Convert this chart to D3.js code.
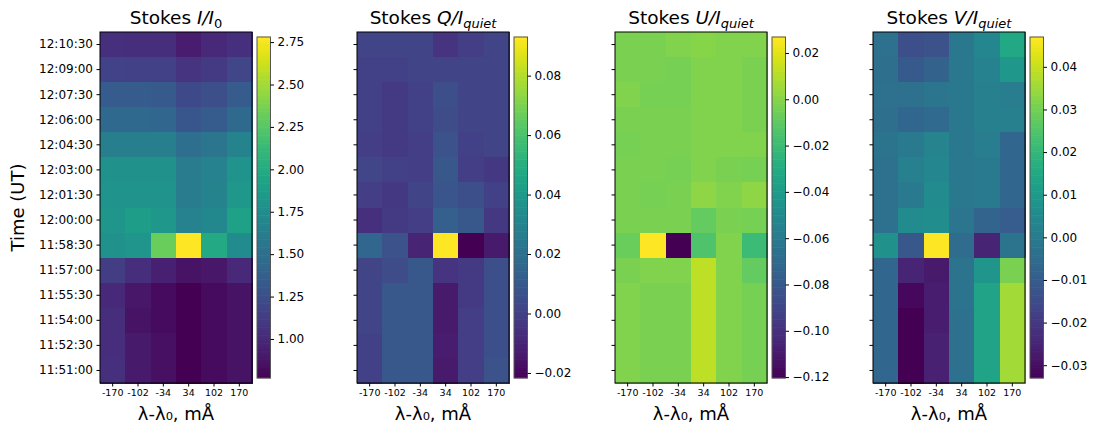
<!DOCTYPE html>
<html>
<head>
<meta charset="utf-8">
<script src="https://cdn.jsdelivr.net/npm/d3@7"></script>
<style>
  html, body { margin: 0; padding: 0; background: #fff; }
  svg { display: block; font-family: "DejaVu Sans", sans-serif; }
</style>
</head>
<body>
<svg id="chart" width="1098" height="431"></svg>
<script>
// Wavelength offsets (columns)
const wavelengths = ["-170", "-102", "-34", "34", "102", "170"];
// Time labels, top row first
const times = ["12:10:30", "12:09:00", "12:07:30", "12:06:00", "12:04:30", "12:03:00",
  "12:01:30", "12:00:00", "11:58:30", "11:57:00", "11:55:30", "11:54:00", "11:52:30", "11:51:00"];

// Stokes I/I0 (rows top -> bottom)
const stokesI = [
  [1.05, 1.03, 1.03, 0.93, 0.99, 1.05],
  [1.17, 1.15, 1.15, 1.07, 1.11, 1.19],
  [1.35, 1.35, 1.33, 1.21, 1.25, 1.35],
  [1.45, 1.45, 1.43, 1.31, 1.35, 1.45],
  [1.63, 1.63, 1.63, 1.49, 1.55, 1.67],
  [1.78, 1.78, 1.78, 1.61, 1.65, 1.80],
  [1.80, 1.80, 1.80, 1.61, 1.67, 1.84],
  [1.82, 1.88, 1.84, 1.65, 1.71, 1.92],
  [1.78, 1.82, 2.32, 2.78, 1.98, 1.73],
  [1.13, 1.03, 0.95, 0.87, 0.89, 0.99],
  [0.99, 0.89, 0.83, 0.77, 0.83, 0.87],
  [1.03, 0.87, 0.83, 0.77, 0.83, 0.87],
  [1.03, 0.91, 0.85, 0.77, 0.83, 0.87],
  [1.05, 0.91, 0.85, 0.77, 0.83, 0.87]
];
// Stokes Q/Iquiet
const stokesQ = [
  [0.0012, 0.0012, 0.0012, -0.0045, -0.0010, 0.0012],
  [0.0001, 0.0001, 0.0012, 0.0012, 0.0012, 0.0012],
  [0.0001, -0.0022, 0.0001, 0.0058, 0.0012, 0.0012],
  [0.0001, -0.0022, 0.0001, 0.0047, 0.0012, 0.0012],
  [-0.0010, -0.0022, -0.0010, 0.0070, 0.0001, 0.0012],
  [0.0024, 0.0001, -0.0010, 0.0093, -0.0010, -0.0033],
  [-0.0010, -0.0033, 0.0012, 0.0081, 0.0058, 0.0001],
  [-0.0056, -0.0022, -0.0010, 0.0127, 0.0093, -0.0033],
  [0.0162, 0.0070, -0.0102, 0.0930, -0.0217, -0.0137],
  [0.0012, 0.0047, 0.0093, -0.0045, -0.0022, 0.0058],
  [0.0012, 0.0093, 0.0093, -0.0137, -0.0022, 0.0058],
  [0.0012, 0.0093, 0.0093, -0.0137, -0.0010, 0.0058],
  [0.0001, 0.0093, 0.0093, -0.0125, -0.0010, 0.0058],
  [0.0001, 0.0093, 0.0093, -0.0137, -0.0010, 0.0070]
];
// Stokes U/Iquiet
const stokesU = [
  [-0.0026, -0.0026, -0.0011, 0.0004, -0.0011, -0.0011],
  [-0.0026, -0.0026, -0.0040, -0.0011, -0.0011, -0.0026],
  [-0.0011, -0.0040, -0.0040, -0.0011, -0.0011, -0.0026],
  [-0.0026, -0.0026, -0.0026, -0.0011, -0.0011, -0.0026],
  [-0.0040, -0.0026, -0.0026, -0.0011, -0.0011, -0.0011],
  [-0.0026, -0.0026, -0.0040, -0.0011, -0.0026, -0.0040],
  [-0.0026, -0.0040, -0.0026, 0.0019, -0.0011, 0.0019],
  [-0.0026, -0.0026, -0.0026, -0.0085, -0.0026, -0.0040],
  [-0.0070, 0.0269, -0.1204, -0.0143, -0.0011, -0.0202],
  [-0.0026, -0.0011, -0.0011, 0.0122, -0.0011, -0.0085],
  [-0.0011, -0.0026, -0.0026, 0.0122, -0.0011, -0.0040],
  [-0.0011, -0.0026, -0.0026, 0.0122, -0.0011, -0.0040],
  [-0.0011, -0.0026, -0.0026, 0.0122, -0.0011, -0.0040],
  [-0.0011, -0.0026, -0.0026, 0.0122, -0.0011, -0.0040]
];
// Stokes V/Iquiet
const stokesV = [
  [-0.0034, -0.0138, -0.0130, -0.0010, 0.0038, 0.0150],
  [-0.0042, -0.0106, -0.0082, -0.0010, 0.0022, 0.0094],
  [-0.0034, -0.0034, -0.0018, -0.0010, 0.0014, 0.0006],
  [-0.0042, -0.0066, -0.0058, -0.0010, 0.0014, 0.0014],
  [-0.0026, -0.0002, 0.0030, -0.0010, 0.0006, -0.0066],
  [-0.0034, 0.0014, 0.0038, -0.0010, -0.0002, -0.0066],
  [-0.0034, -0.0002, 0.0054, -0.0010, -0.0002, -0.0066],
  [-0.0034, 0.0054, 0.0062, -0.0018, -0.0074, -0.0098],
  [0.0070, -0.0114, 0.0470, -0.0050, -0.0250, -0.0026],
  [-0.0066, -0.0250, -0.0274, -0.0026, 0.0086, 0.0310],
  [-0.0066, -0.0314, -0.0266, -0.0026, 0.0134, 0.0358],
  [-0.0066, -0.0330, -0.0266, -0.0034, 0.0134, 0.0358],
  [-0.0066, -0.0330, -0.0258, -0.0034, 0.0134, 0.0358],
  [-0.0066, -0.0330, -0.0258, -0.0034, 0.0134, 0.0358]
];

// Colorbar tick values
const ticksI = [1.00, 1.25, 1.50, 1.75, 2.00, 2.25, 2.50, 2.75];
const ticksQ = [-0.02, 0.00, 0.02, 0.04, 0.06, 0.08];
const ticksU = [-0.12, -0.10, -0.08, -0.06, -0.04, -0.02, 0.00, 0.02];
const ticksV = [-0.03, -0.02, -0.01, 0.00, 0.01, 0.02, 0.03, 0.04];

const panels = [
  { name: "I", sub: "0", data: stokesI, ticks: ticksI, left: 100 },
  { name: "Q", sub: "quiet", data: stokesQ, ticks: ticksQ, left: 357 },
  { name: "U", sub: "quiet", data: stokesU, ticks: ticksU, left: 615 },
  { name: "V", sub: "quiet", data: stokesV, ticks: ticksV, left: 873 }
];

const svg = d3.select("#chart");
const plotTop = 32, pw = 152, ph = 351;
const cbTop = 37, cbH = 341, cbW = 13.5, cbGap = 5;

const x = d3.scaleBand().domain(wavelengths).range([0, pw]);
const y = d3.scaleBand().domain(times).range([0, ph]);

panels.forEach((p, pi) => {
  const flat = p.data.flat();
  const ext = d3.extent(flat);
  const color = d3.scaleSequential(d3.interpolateViridis).domain(ext);

  const g = svg.append("g").attr("transform", `translate(${p.left},${plotTop})`);

  // cells
  const cells = g.append("g").attr("shape-rendering", "crispEdges");
  p.data.forEach((row, ri) => {
    row.forEach((v, ci) => {
      cells.append("rect")
        .attr("x", x(wavelengths[ci]))
        .attr("y", y(times[ri]))
        .attr("width", x.bandwidth() + 1)
        .attr("height", y.bandwidth() + 1)
        .attr("fill", color(v));
    });
  });

  // frame
  g.append("rect").attr("x", 0).attr("y", 0).attr("width", pw).attr("height", ph)
    .attr("fill", "none").attr("stroke", "#000").attr("stroke-width", 1);

  // x axis
  const xa = g.append("g").attr("transform", `translate(0,${ph})`)
    .call(d3.axisBottom(x).tickSize(3.5).tickPadding(3));
  xa.select(".domain").remove();
  xa.selectAll("text").attr("font-size", "9.5px").attr("fill", "#000")
    .attr("font-family", "DejaVu Sans");
  xa.selectAll("line").attr("stroke", "#000");

  // y axis
  const ya = g.append("g").call(d3.axisLeft(y).tickSize(3.5).tickPadding(3.5));
  ya.select(".domain").remove();
  ya.selectAll("line").attr("stroke", "#000");
  if (pi === 0) {
    ya.selectAll("text").attr("font-size", "12px").attr("fill", "#000")
      .attr("font-family", "DejaVu Sans");
  } else {
    ya.selectAll("text").remove();
  }

  // title
  const t = svg.append("text")
    .attr("x", p.left + pw / 2).attr("y", 24)
    .attr("text-anchor", "middle").attr("font-size", "18.5px").attr("fill", "#000");
  t.append("tspan").text("Stokes ");
  t.append("tspan").attr("font-style", "italic").text(p.name + "/I");
  t.append("tspan").attr("font-size", "13px").attr("dy", 4)
    .attr("font-style", p.sub === "0" ? "normal" : "italic").text(p.sub);

  // x label
  svg.append("text")
    .attr("x", p.left + pw / 2).attr("y", 420)
    .attr("text-anchor", "middle").attr("font-size", "18px").attr("fill", "#000")
    .text("λ-λ₀, mÅ");

  // colorbar
  const cbx = p.left + pw + cbGap;
  const cb = svg.append("g").attr("transform", `translate(${cbx},${cbTop})`);
  const cy = d3.scaleLinear().domain(ext).range([cbH, 0]);
  const nSteps = 128;
  const stepVals = d3.range(nSteps).map(i => ext[0] + (ext[1] - ext[0]) * (i + 0.5) / nSteps);
  cb.selectAll("rect.s").data(stepVals).enter().append("rect")
    .attr("x", 0).attr("width", cbW)
    .attr("y", d => cy(d) - cbH / nSteps / 2 - 0.3)
    .attr("height", cbH / nSteps + 0.6)
    .attr("fill", d => color(d));
  cb.append("rect").attr("x", 0).attr("y", 0).attr("width", cbW).attr("height", cbH)
    .attr("fill", "none").attr("stroke", "#555").attr("stroke-width", 1);
  const ca = cb.append("g").attr("transform", `translate(${cbW},0)`)
    .call(d3.axisRight(cy).tickValues(p.ticks).tickFormat(d3.format(".2f")).tickSize(3.5).tickPadding(3.5));
  ca.select(".domain").remove();
  ca.selectAll("line").attr("stroke", "#000");
  ca.selectAll("text").attr("font-size", "12px").attr("fill", "#000")
    .attr("font-family", "DejaVu Sans");
});

// y label
svg.append("text")
  .attr("transform", `translate(24,${plotTop + ph / 2}) rotate(-90)`)
  .attr("text-anchor", "middle").attr("font-size", "18px").attr("fill", "#000")
  .text("Time (UT)");
</script>
</body>
</html>
